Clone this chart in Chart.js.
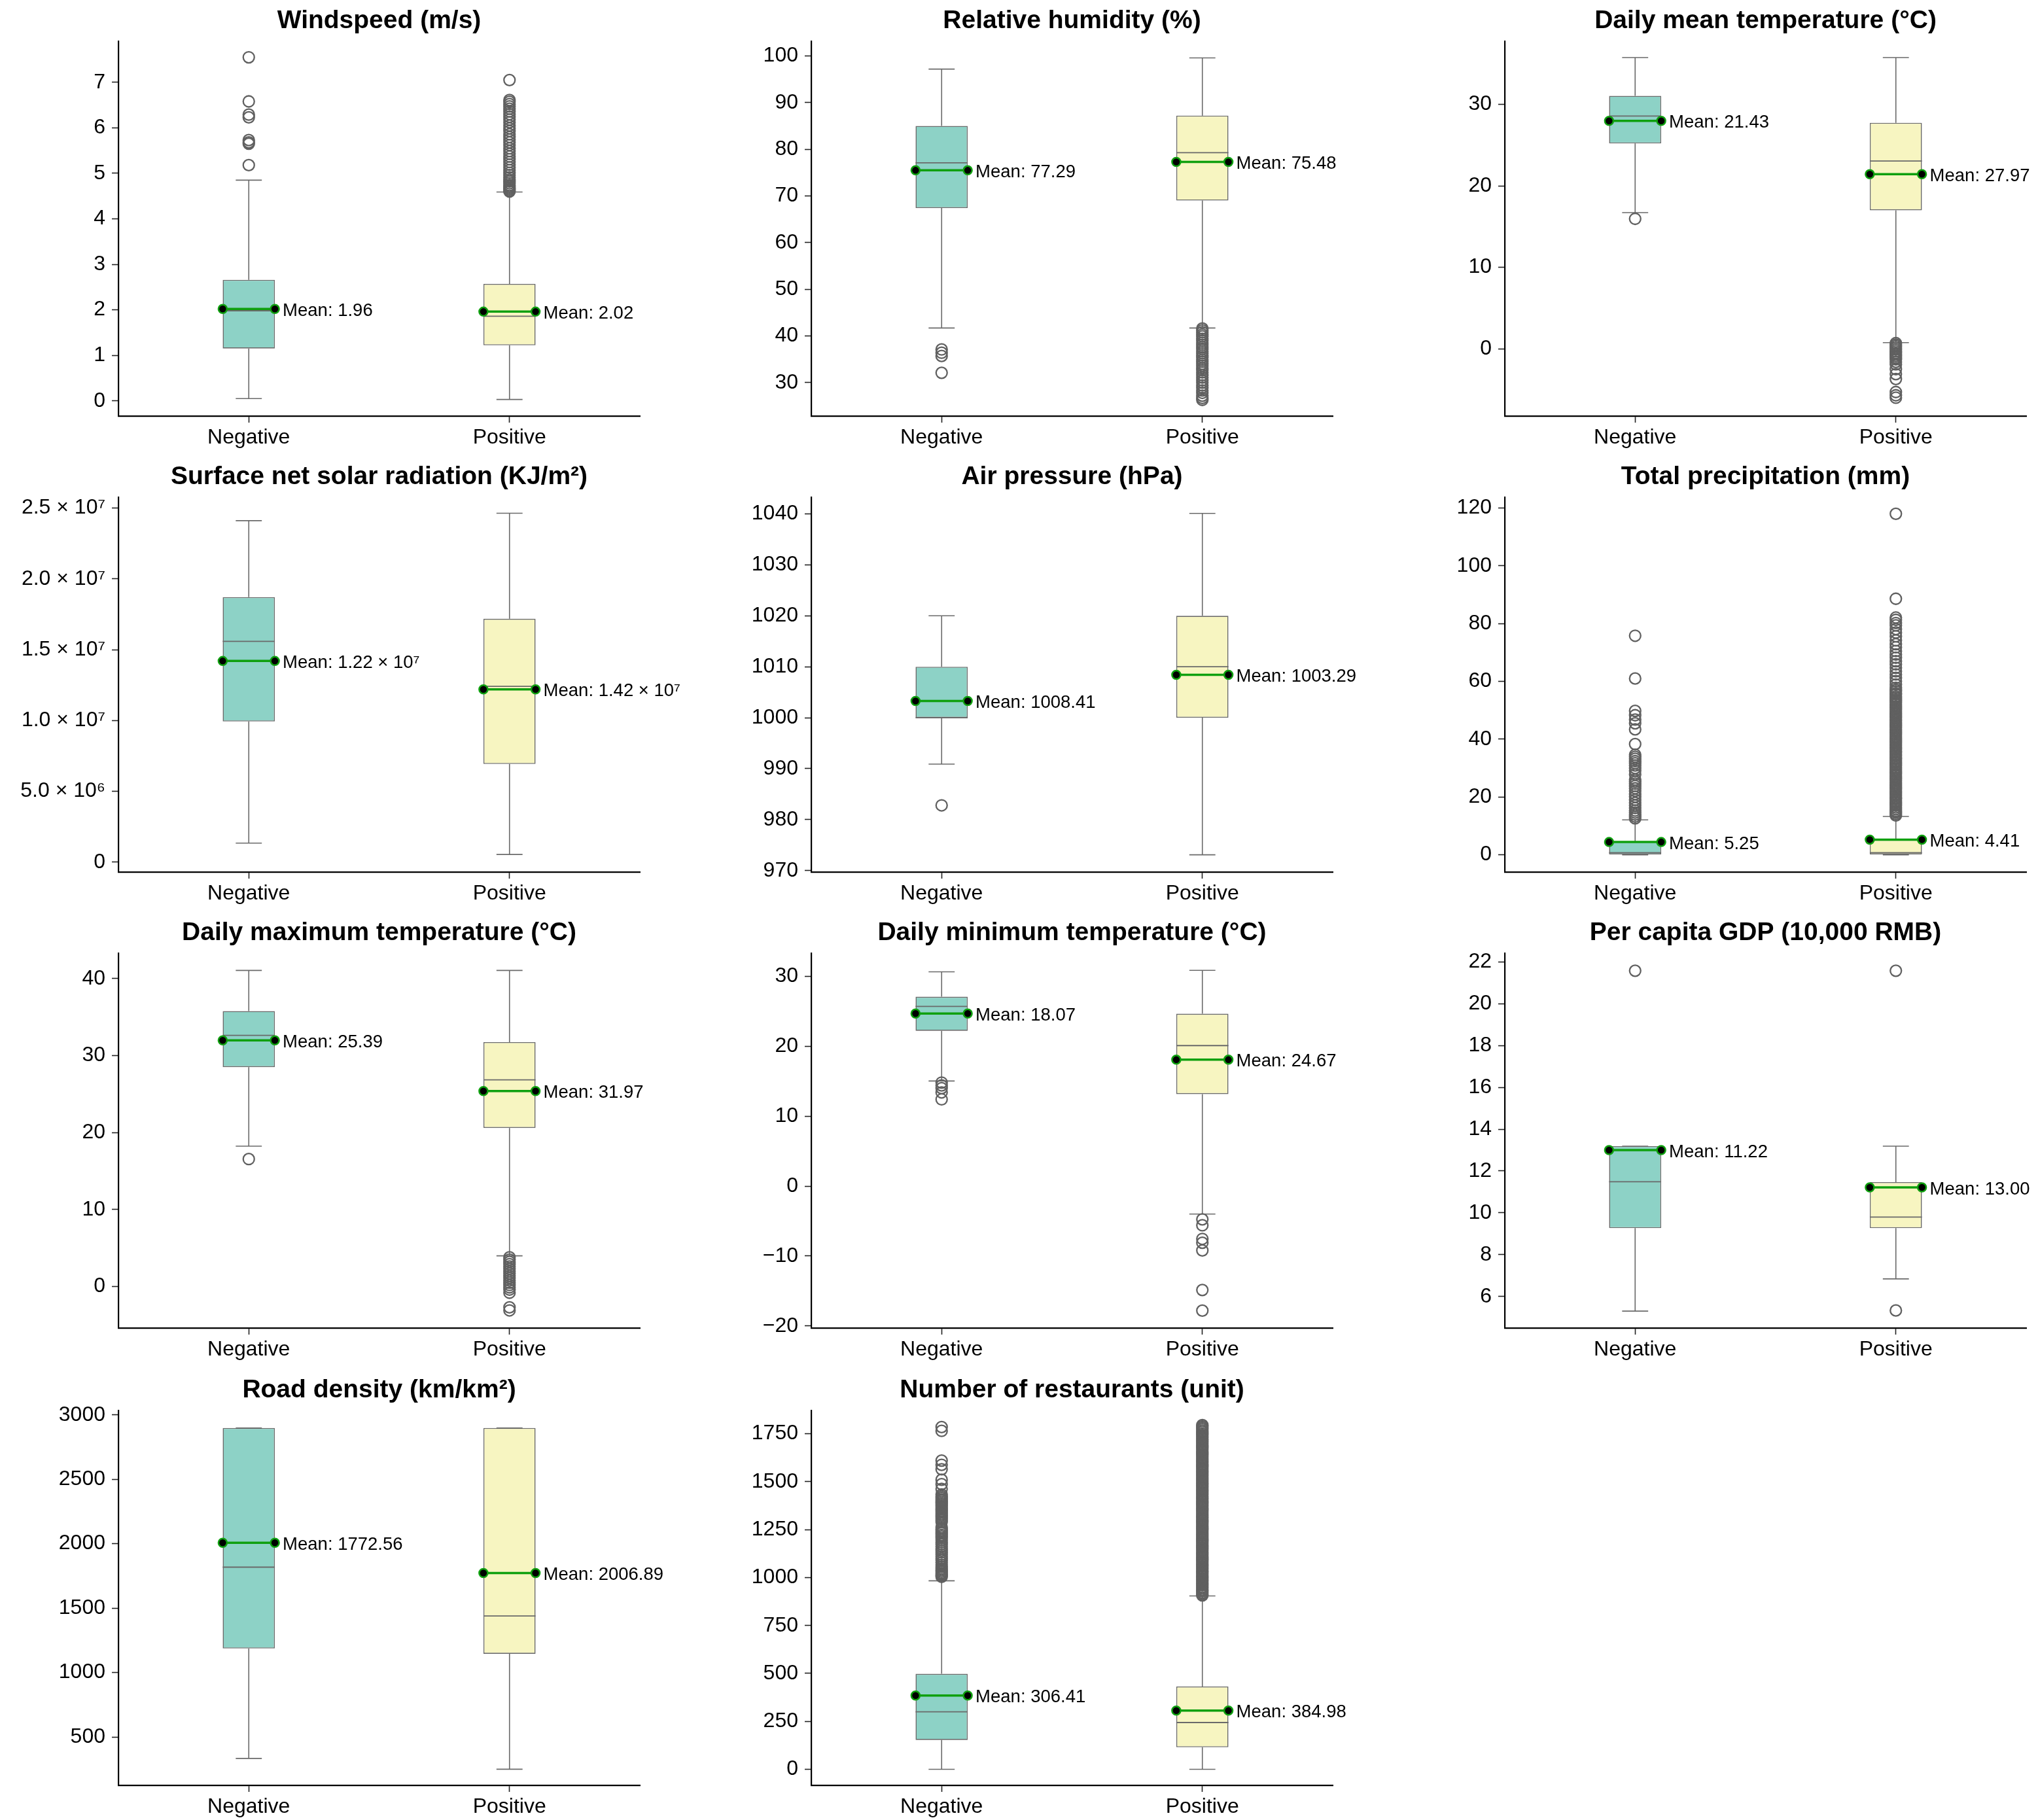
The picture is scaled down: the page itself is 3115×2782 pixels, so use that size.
<!DOCTYPE html>
<html>
<head>
<meta charset="utf-8">
<script src="https://cdn.jsdelivr.net/npm/chart.js@4.4.1/dist/chart.umd.min.js"></script>
<style>
html, body { margin: 0; padding: 0; background: #ffffff; overflow: hidden; width: 3115px; height: 2782px; }
.cell { position: absolute; }
</style>
</head>
<body>
<script>
// ---------------- DATA ----------------
const categories = ['Negative', 'Positive'];

const titles = [
  'Windspeed (m/s)', 'Relative humidity (%)', 'Daily mean temperature (°C)',
  'Surface net solar radiation (KJ/m²)', 'Air pressure (hPa)', 'Total precipitation (mm)',
  'Daily maximum temperature (°C)', 'Daily minimum temperature (°C)', 'Per capita GDP (10,000 RMB)',
  'Road density (km/km²)', 'Number of restaurants (unit)'
];

const q1Vals = [[1.15, 1.22], [67.4, 69.0], [25.2, 17.0], [9.93e6, 6.93e6], [1000, 1000], [0, 0],
  [28.5, 20.6], [22.2, 13.15], [9.27, 9.27], [1187, 1146], [153, 115]];
const medianVals = [[1.98, 1.86], [77.1, 79.25], [28.56, 23.05], [1.559e7, 1.241e7], [1000, 1010], [0.7, 0.7],
  [32.63, 26.85], [25.69, 20.09], [11.49, 9.8], [1818, 1439], [300, 244]];
const q3Vals = [[2.66, 2.57], [85.0, 87.2], [31.04, 27.73], [1.871e7, 1.718e7], [1010, 1020], [4.6, 5.2],
  [35.78, 31.75], [27.07, 24.64], [13.19, 11.47], [2898, 2898], [498, 432]];
const whiskerLow = [[0.05, 0.03], [41.7, 41.7], [16.71, 0.76], [1.34e6, 5.4e5], [990.9, 973.1], [0, 0],
  [18.23, 3.99], [15.03, -3.99], [5.3, 6.84], [334, 250], [0, 0]];
const whiskerHigh = [[4.85, 4.59], [97.17, 99.56], [35.73, 35.73], [2.411e7, 2.463e7], [1020, 1040.1], [12.06, 13.28],
  [41.06, 41.06], [30.63, 30.84], [13.19, 13.19], [2898, 2898], [983, 904]];
const meanVals = [[2.02, 1.96], [75.48, 77.29], [27.97, 21.43], [1.42e7, 1.22e7], [1003.29, 1008.41], [4.41, 5.25],
  [31.97, 25.39], [24.67, 18.07], [13.0, 11.22], [2006.89, 1772.56], [384.98, 306.41]];
const meanLabels = [
  ['Mean: 1.96', 'Mean: 2.02'], ['Mean: 77.29', 'Mean: 75.48'], ['Mean: 21.43', 'Mean: 27.97'],
  ['Mean: 1.22 × 10⁷', 'Mean: 1.42 × 10⁷'], ['Mean: 1008.41', 'Mean: 1003.29'], ['Mean: 5.25', 'Mean: 4.41'],
  ['Mean: 25.39', 'Mean: 31.97'], ['Mean: 18.07', 'Mean: 24.67'], ['Mean: 11.22', 'Mean: 13.00'],
  ['Mean: 1772.56', 'Mean: 2006.89'], ['Mean: 306.41', 'Mean: 384.98']
];

const yMin = [-0.335, 22.83, -8.25, -7.03e5, 969.71, -5.98, -5.39, -20.29, 4.49, 125.1, -83.5];
const yMax = [7.903, 103.14, 37.74, 2.5765e7, 1043.28, 123.75, 43.3, 33.3, 22.42, 3033.9, 1871.4];

const yTicks = [
  [0, 1, 2, 3, 4, 5, 6, 7],
  [30, 40, 50, 60, 70, 80, 90, 100],
  [0, 10, 20, 30],
  [0, 5e6, 1e7, 1.5e7, 2e7, 2.5e7],
  [970, 980, 990, 1000, 1010, 1020, 1030, 1040],
  [0, 20, 40, 60, 80, 100, 120],
  [0, 10, 20, 30, 40],
  [-20, -10, 0, 10, 20, 30],
  [6, 8, 10, 12, 14, 16, 18, 20, 22],
  [500, 1000, 1500, 2000, 2500, 3000],
  [0, 250, 500, 750, 1000, 1250, 1500, 1750]
];
const yTickLabels = [
  ['0', '1', '2', '3', '4', '5', '6', '7'],
  ['30', '40', '50', '60', '70', '80', '90', '100'],
  ['0', '10', '20', '30'],
  ['0', '5.0 × 10⁶', '1.0 × 10⁷', '1.5 × 10⁷', '2.0 × 10⁷', '2.5 × 10⁷'],
  ['970', '980', '990', '1000', '1010', '1020', '1030', '1040'],
  ['0', '20', '40', '60', '80', '100', '120'],
  ['0', '10', '20', '30', '40'],
  ['−20', '−10', '0', '10', '20', '30'],
  ['6', '8', '10', '12', '14', '16', '18', '20', '22'],
  ['500', '1000', '1500', '2000', '2500', '3000'],
  ['0', '250', '500', '750', '1000', '1250', '1500', '1750']
];

// outliers: [Negative, Positive]
const windOut = [
  [7.55, 6.58, 6.29, 6.23, 5.73, 5.68, 5.65, 5.18],
  [7.05, 6.61, 6.57, 6.52, 6.47, 6.42, 6.36, 6.3, 6.24, 6.18, 6.12, 6.05, 5.99, 5.93, 5.86, 5.8, 5.74, 5.68,
   5.62, 5.55, 5.49, 5.43, 5.37, 5.31, 5.25, 5.19, 5.13, 5.07, 5.01, 4.96, 4.91, 4.86, 4.82, 4.78, 4.74, 4.71,
   4.68, 4.65, 4.62, 4.6]
];
const humidOut = [
  [37.1, 36.4, 35.7, 32.1],
  [41.6, 41.2, 40.8, 40.3, 39.9, 39.4, 39.0, 38.5, 38.1, 37.6, 37.2, 36.7, 36.3, 35.8, 35.4, 34.9, 34.5, 34.0,
   33.6, 33.1, 32.7, 32.2, 31.6, 31.1, 30.5, 30.0, 29.4, 28.9, 28.3, 27.8, 27.2, 26.7, 26.3]
];
const meanTempOut = [
  [15.95],
  [0.7, 0.5, 0.3, 0.1, -0.1, -0.3, -0.5, -0.7, -0.9, -1.1, -1.3, -1.6, -1.9, -2.5, -3.1, -3.7, -5.3, -5.7, -6.0]
];
const solarOut = [[], []];
const pressureOut = [[982.8], []];
const precipOut = [
  [75.8, 61.0, 49.8, 48.3, 46.8, 45.5, 43.4, 38.3, 34.6, 33.9, 33.2, 32.4, 31.7, 30.9, 30.0, 29.1, 27.8, 26.0,
   25.3, 24.6, 23.8, 23.0, 22.1, 21.0, 20.1, 19.0, 18.0, 17.1, 16.2, 15.3, 14.6, 13.9, 13.2, 12.6],
  [118.0, 88.6, 82.1, 81.3, 80.2, 79.4, 78.1, 76.9, 75.6, 74.2, 72.9, 71.8, 70.5, 69.3, 68.2, 67.0, 65.9, 64.7,
   63.5, 62.4, 61.2, 60.1, 58.9, 57.8, 57.1, 56.6, 55.9, 55.5, 54.8, 54.3, 53.7, 53.2, 52.6, 52.0, 51.4, 50.9,
   50.3, 49.7, 49.1, 48.6, 48.0, 47.4, 46.8, 46.3, 45.7, 45.1, 44.6, 44.0, 43.4, 42.8, 42.3, 41.7, 41.1, 40.5,
   40.0, 39.4, 38.8, 38.2, 37.7, 37.1, 36.5, 35.9, 35.4, 34.8, 34.2, 33.6, 33.1, 32.5, 31.9, 31.3, 30.8, 30.2,
   29.6, 29.0, 28.5, 27.9, 27.3, 26.7, 26.2, 25.6, 25.0, 24.4, 23.9, 23.3, 22.7, 22.1, 21.6, 21.0, 20.4, 19.8,
   19.3, 18.7, 18.1, 17.5, 17.0, 16.4, 15.8, 15.2, 14.7, 14.1, 13.6]
];
const maxTempOut = [
  [16.56],
  [3.8, 3.5, 3.2, 2.9, 2.6, 2.3, 2.0, 1.7, 1.4, 1.1, 0.8, 0.5, 0.2, -0.1, -0.4, -0.8, -2.7, -3.1]
];
const minTempOut = [
  [14.8, 14.4, 14.0, 13.4, 12.4],
  [-4.75, -5.6, -7.55, -8.1, -9.2, -14.85, -17.8]
];
const gdpOut = [[21.58], [21.58, 5.33]];
const roadOut = [[], []];
const restOut = [
  [1785, 1765, 1610, 1588, 1565, 1510, 1487, 1462, 1433, 1424, 1416, 1408, 1401, 1393, 1386, 1378, 1371, 1363,
   1356, 1348, 1340, 1332, 1325, 1317, 1309, 1300, 1290, 1262, 1254, 1246, 1238, 1231, 1222, 1214, 1205, 1196,
   1185, 1174, 1162, 1150, 1140, 1131, 1120, 1110, 1100, 1091, 1078, 1066, 1056, 1047, 1039, 1031, 1023, 1016,
   1010, 1004],
  [1795, 1788, 1781, 1774, 1766, 1759, 1751, 1744, 1736, 1729, 1721, 1713, 1706, 1698, 1691, 1683, 1676, 1668,
   1660, 1653, 1645, 1638, 1630, 1622, 1615, 1607, 1600, 1592, 1584, 1577, 1569, 1561, 1554, 1546, 1538, 1531,
   1523, 1516, 1508, 1500, 1493, 1485, 1477, 1470, 1462, 1455, 1447, 1439, 1432, 1424, 1416, 1409, 1401, 1393,
   1386, 1378, 1371, 1363, 1355, 1348, 1340, 1332, 1325, 1317, 1310, 1302, 1294, 1287, 1279, 1271, 1264, 1256,
   1249, 1241, 1233, 1226, 1218, 1210, 1203, 1195, 1188, 1180, 1172, 1165, 1157, 1150, 1142, 1134, 1127, 1119,
   1111, 1104, 1096, 1089, 1081, 1073, 1066, 1058, 1050, 1043, 1035, 1028, 1020, 1012, 1005, 997, 989, 982,
   974, 967, 959, 951, 944, 936, 929, 921, 913, 907]
];
const outlierSets = [windOut, humidOut, meanTempOut, solarOut, pressureOut, precipOut,
  maxTempOut, minTempOut, gdpOut, roadOut, restOut];

// ---------------- STYLE / LAYOUT ----------------
const FONT = "'Liberation Sans', Arial, Helvetica, sans-serif";
const boxColors = ['#8DD2C6', '#F7F5C1'];
const GRAY = '#6A6A6A';
const OUT_GRAY = '#606060';
const GREEN = '#0FA00F';
const HALF = 0.1;   // half box width in category units
const CAP = 0.05;   // half cap width
const AX_LEFT = 181, AX_W = 797, AX_TOP = 63, AX_H = 573, X_AXIS_H = 64;
const colLeft = [181, 1240, 2300];
const rowTop = [63, 760, 1457, 2156];

Chart.defaults.font.family = FONT;
Chart.defaults.color = '#000';

function pt(x, y) { return { x: x, y: y }; }

titles.forEach((title, p) => {
  const col = p % 3, row = Math.floor(p / 3);
  const left = colLeft[col] - AX_LEFT;
  const top = rowTop[row] - AX_TOP;
  const width = Math.min(AX_LEFT + AX_W + 140, 3115 - left);
  const height = AX_TOP + AX_H + X_AXIS_H;
  const padRight = width - AX_LEFT - AX_W;

  const div = document.createElement('div');
  div.className = 'cell';
  div.style.left = left + 'px';
  div.style.top = top + 'px';
  div.style.width = width + 'px';
  div.style.height = height + 'px';
  const canvas = document.createElement('canvas');
  div.appendChild(canvas);
  document.body.appendChild(div);

  const whiskers = [], caps = [], medians = [], outs = [], means = [];
  categories.forEach((c, i) => {
    whiskers.push(pt(i, q1Vals[p][i]), pt(i, whiskerLow[p][i]), pt(i, null));
    whiskers.push(pt(i, q3Vals[p][i]), pt(i, whiskerHigh[p][i]), pt(i, null));
    caps.push(pt(i - CAP, whiskerLow[p][i]), pt(i + CAP, whiskerLow[p][i]), pt(i, null));
    caps.push(pt(i - CAP, whiskerHigh[p][i]), pt(i + CAP, whiskerHigh[p][i]), pt(i, null));
    medians.push(pt(i - HALF, medianVals[p][i]), pt(i + HALF, medianVals[p][i]), pt(i, null));
    outlierSets[p][i].forEach(v => outs.push(pt(i, v)));
    means.push(pt(i - HALF, meanVals[p][i]), pt(i + HALF, meanVals[p][i]), pt(i, null));
  });

  const lineBase = { type: 'line', xAxisID: 'x2', yAxisID: 'y', pointRadius: 0, fill: false, tension: 0, spanGaps: false };

  const meanTextPlugin = {
    id: 'meanText' + p,
    afterDatasetsDraw(chart) {
      const ctx = chart.ctx, xs = chart.scales.x2, ys = chart.scales.y;
      ctx.save();
      ctx.font = '27.5px ' + FONT;
      ctx.fillStyle = '#000';
      ctx.textAlign = 'left';
      ctx.textBaseline = 'middle';
      categories.forEach((c, i) => {
        ctx.fillText(meanLabels[p][i], xs.getPixelForValue(i + HALF) + 12, ys.getPixelForValue(meanVals[p][i]) + 3);
      });
      ctx.restore();
    }
  };

  new Chart(canvas, {
    type: 'bar',
    data: {
      labels: categories,
      datasets: [
        { type: 'bar', xAxisID: 'x', yAxisID: 'y', order: 6, grouped: false,
          data: categories.map((c, i) => [q1Vals[p][i], q3Vals[p][i]]),
          backgroundColor: boxColors, borderColor: GRAY, borderWidth: 1.6, borderSkipped: false,
          barPercentage: 0.2, categoryPercentage: 1.0 },
        Object.assign({}, lineBase, { order: 5, data: whiskers, borderColor: GRAY, borderWidth: 1.6 }),
        Object.assign({}, lineBase, { order: 4, data: caps, borderColor: GRAY, borderWidth: 1.6 }),
        Object.assign({}, lineBase, { order: 3, data: medians, borderColor: GRAY, borderWidth: 1.8 }),
        Object.assign({}, lineBase, { order: 2, data: outs, showLine: false, clip: false,
          pointRadius: 8.5, pointStyle: 'circle', pointBackgroundColor: 'rgba(0,0,0,0)',
          pointBorderColor: OUT_GRAY, pointBorderWidth: 2.3 }),
        Object.assign({}, lineBase, { order: 1, data: means, clip: false, borderColor: GREEN, borderWidth: 3.5,
          pointRadius: 6.5, pointStyle: 'circle', pointBackgroundColor: '#000',
          pointBorderColor: GREEN, pointBorderWidth: 2.5 })
      ]
    },
    options: {
      responsive: true,
      maintainAspectRatio: false,
      animation: false,
      events: [],
      layout: { padding: { left: 0, right: padRight, top: 0, bottom: 0 } },
      plugins: {
        legend: { display: false },
        tooltip: { enabled: false },
        title: {
          display: true, text: title, fullSize: false, color: '#000',
          font: { size: 39, weight: 'bold', family: FONT, lineHeight: 1.2 },
          padding: { top: 9, bottom: 7.2 }
        }
      },
      scales: {
        x: {
          type: 'category', position: 'bottom', offset: true,
          grid: { display: true, drawOnChartArea: false, drawTicks: true, offset: false,
                  tickLength: 10, tickWidth: 1.6, tickColor: '#222' },
          border: { display: true, color: '#000', width: 2.2 },
          ticks: { font: { size: 32, family: FONT }, color: '#000', padding: 4, maxRotation: 0 },
          afterFit(scale) { scale.height = X_AXIS_H; }
        },
        x2: { type: 'linear', display: false, min: -0.5, max: 1.5, offset: false },
        y: {
          type: 'linear', position: 'left', min: yMin[p], max: yMax[p],
          grid: { display: true, drawOnChartArea: false, drawTicks: true,
                  tickLength: 10, tickWidth: 1.6, tickColor: '#222' },
          border: { display: true, color: '#000', width: 2.2 },
          ticks: { font: { size: 32, family: FONT }, color: '#000', padding: 10, autoSkip: false,
                   callback: (v, idx) => yTickLabels[p][idx] },
          afterBuildTicks(scale) { scale.ticks = yTicks[p].map(v => ({ value: v })); },
          afterFit(scale) { scale.width = AX_LEFT; }
        }
      }
    },
    plugins: [meanTextPlugin]
  });
});
</script>
</body>
</html>
